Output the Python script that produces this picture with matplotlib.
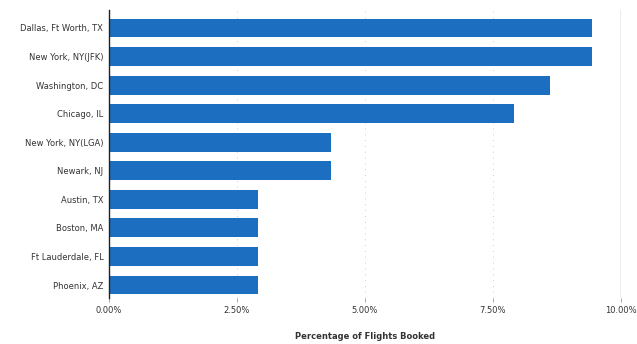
import matplotlib.pyplot as plt

# Top destination cities by share of booked flights (%)
cities = [
    "Dallas, Ft Worth, TX",
    "New York, NY(JFK)",
    "Washington, DC",
    "Chicago, IL",
    "New York, NY(LGA)",
    "Newark, NJ",
    "Austin, TX",
    "Boston, MA",
    "Ft Lauderdale, FL",
    "Phoenix, AZ",
]
shares = [9.43, 9.43, 8.61, 7.91, 4.34, 4.34, 2.91, 2.91, 2.91, 2.91]
ticks = [0, 2.5, 5, 7.5, 10]
tick_labels = ["0.00%", "2.50%", "5.00%", "7.50%", "10.00%"]

fig = plt.figure(figsize=(6.37, 3.44), dpi=100)
ax = fig.add_axes([0.171, 0.134, 0.804, 0.837])

pos = list(range(len(cities)))
ax.barh(pos, shares, height=0.66, color="#1c6fc0", zorder=2)
ax.set_yticks(pos)
ax.set_yticklabels(cities, fontsize=6, color="#333333")
ax.set_ylim(len(cities) - 0.55, -0.63)

ax.set_xlim(0, 10)
ax.set_xticks(ticks)
ax.set_xticklabels(tick_labels, fontsize=6, color="#333333")
ax.set_xlabel("Percentage of Flights Booked", fontsize=6, color="#333333",
              fontweight="bold", labelpad=12)

# faint dotted grid lines
for t in ticks[1:-1]:
    ax.axvline(t, color="#bbbbbb", lw=0.6, ls=(0, (1, 6)), zorder=1)
ax.axvline(10, color="#9aa4ad", lw=1.0, zorder=1)

for side in ["top", "right", "bottom"]:
    ax.spines[side].set_visible(False)
ax.spines["left"].set_color("#222222")
ax.spines["left"].set_linewidth(1.0)
ax.tick_params(axis="y", length=0, pad=4)
ax.tick_params(axis="x", length=3, width=0.6, color="#999999", pad=3)

plt.savefig("out.png", dpi=100)
